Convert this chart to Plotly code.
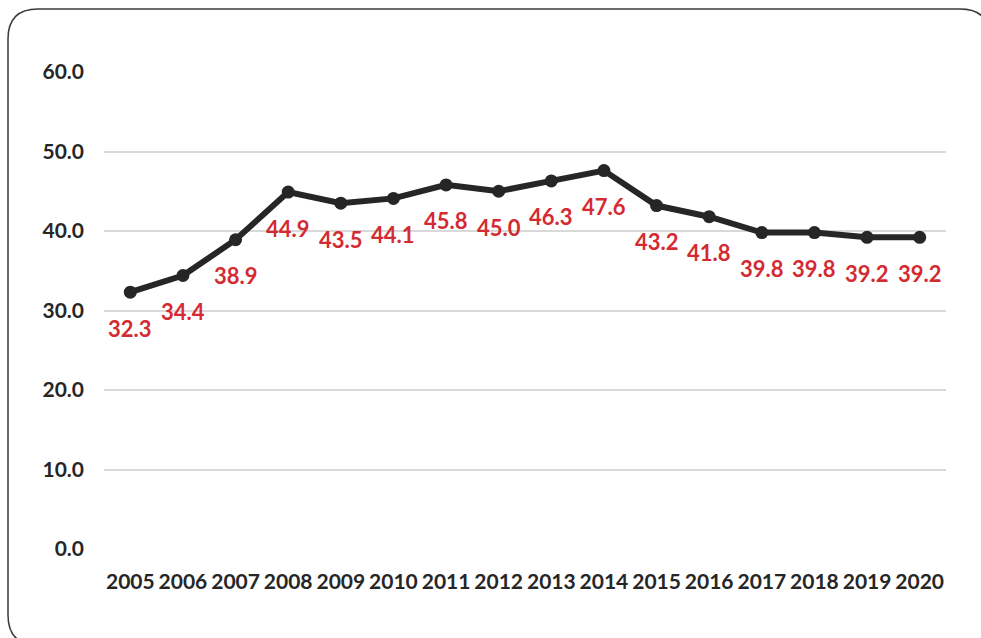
import plotly.graph_objects as go

years = ["2005", "2006", "2007", "2008", "2009", "2010", "2011", "2012",
         "2013", "2014", "2015", "2016", "2017", "2018", "2019", "2020"]
values = [32.3, 34.4, 38.9, 44.9, 43.5, 44.1, 45.8, 45.0,
          46.3, 47.6, 43.2, 41.8, 39.8, 39.8, 39.2, 39.2]
y_ticks = [0, 10, 20, 30, 40, 50, 60]

W, H = 981, 638
L, R, T, B = 104, 35, 72, 89
PW, PH = W - L - R, H - T - B

FONT = "Lato"
LINE_COLOR = "#262626"
LABEL_COLOR = "#d42a32"

fig = go.Figure()
fig.add_trace(go.Scatter(
    x=years, y=values, mode="lines+markers",
    line=dict(color=LINE_COLOR, width=6),
    marker=dict(color=LINE_COLOR, size=13),
    showlegend=False, hoverinfo="skip",
))

for i, v in enumerate(values):
    fig.add_annotation(
        x=i, y=v, xref="x", yref="y", text=f"<b>{v:.1f}</b>",
        showarrow=False, yshift=-36,
        font=dict(family=FONT, size=22, color=LABEL_COLOR),
    )

def px(x):
    return (x - L) / PW

def py(y):
    return (H - B - y) / PH

# rounded border around the chart
x0, x1, y0, y1, r = 8, 990, 9, 645, 30
path = (
    f"M {px(x0 + r)},{py(y0)} L {px(x1 - r)},{py(y0)} "
    f"Q {px(x1)},{py(y0)} {px(x1)},{py(y0 + r)} "
    f"L {px(x1)},{py(y1 - r)} Q {px(x1)},{py(y1)} {px(x1 - r)},{py(y1)} "
    f"L {px(x0 + r)},{py(y1)} Q {px(x0)},{py(y1)} {px(x0)},{py(y1 - r)} "
    f"L {px(x0)},{py(y0 + r)} Q {px(x0)},{py(y0)} {px(x0 + r)},{py(y0)} Z"
)
fig.add_shape(type="path", path=path, xref="paper", yref="paper",
              line=dict(color="#3a3a3a", width=1.5), layer="below")

fig.update_layout(
    width=W, height=H,
    margin=dict(l=L, r=R, t=T, b=B),
    paper_bgcolor="white", plot_bgcolor="white",
    xaxis=dict(
        type="category", range=[-0.5, 15.5], showgrid=False, zeroline=False,
        showline=False, ticks="", ticklabelstandoff=18,
        tickfont=dict(family=FONT, size=21, color="#262626", weight="bold"),
    ),
    yaxis=dict(
        range=[0, 60], tickvals=y_ticks,
        ticktext=[f"{t:.1f}" for t in y_ticks],
        showgrid=True, gridcolor="#d9d9d9", gridwidth=1.5,
        zeroline=False, showline=False, ticks="", ticklabelstandoff=19,
        tickfont=dict(family=FONT, size=21, color="#262626", weight="bold"),
    ),
)

fig.write_html("out.html", config={"displayModeBar": False},
               post_script="document.body.style.margin='0';document.body.style.overflow='hidden';")
